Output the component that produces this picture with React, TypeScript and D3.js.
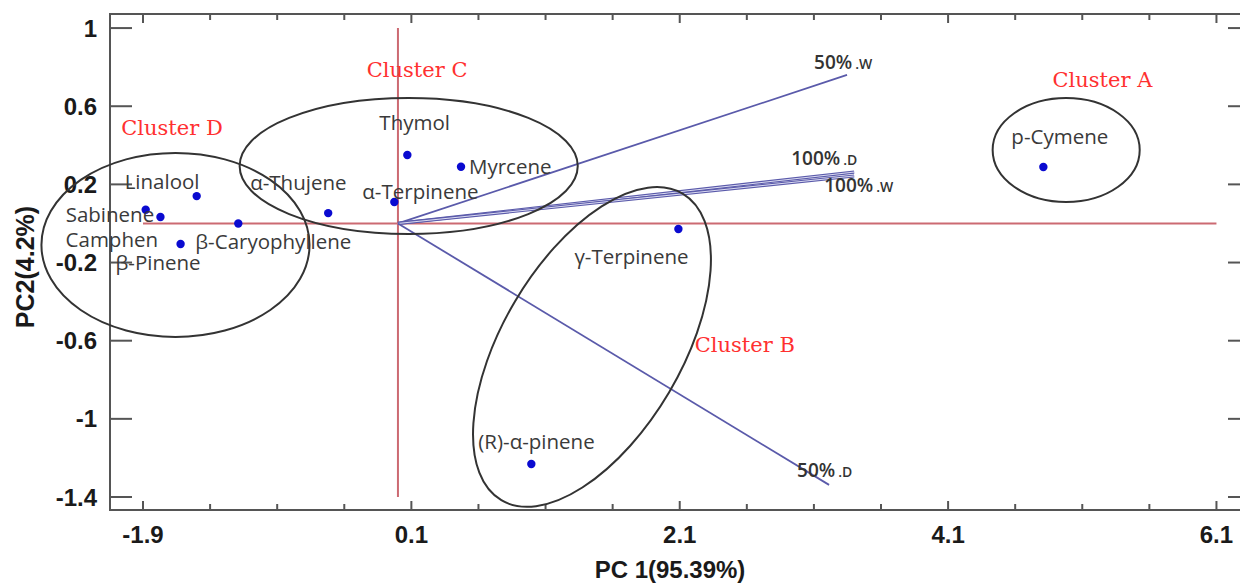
import React from "react";
import * as d3 from "d3";

// ---- data ----
const compounds = ["p-Cymene", "γ-Terpinene", "(R)-α-pinene", "Thymol", "Myrcene", "α-Terpinene", "α-Thujene", "β-Caryophyllene", "Linalool", "Sabinene", "β-Pinene", "Camphen"];
const pc1 = [4.81, 2.09, 0.994, 0.07, 0.47, -0.027, -0.52, -1.19, -1.5, -1.88, -1.77, -1.62];
const pc2 = [0.289, -0.028, -1.231, 0.35, 0.29, 0.11, 0.053, 0.0, 0.14, 0.07, 0.033, -0.105];
// label placement (pixel offset from the dot to the text start / baseline)
const labelDx = [-32, -104, -53, -28, 8, -32, -78, -43, -72, -80, -45, -115];
const labelDy = [-23, 35, -15, -25, 7, -3, -23, 26, -7, 12, 53, 3];

const vectorNames = ["50%", "100%", "100%", "50%"];
const vectorSuffix = [".W", ".D", ".W", ".D"];
const vectorX = [3.347, 3.4, 3.4, 3.213];
const vectorY = [0.76, 0.263, 0.243, -1.338];
const vectorDx = [-33, -63, -30, -32];
const vectorDy = [-6, -7, 16, -8];

const clusterNames = ["Cluster A", "Cluster B", "Cluster C", "Cluster D"];
const clusterLabelX = [5.25, 2.585, 0.143, -1.684];
const clusterLabelY = [0.734, -0.622, 0.786, 0.489];
const ellipseCx = [4.98, 1.446, 0.08, -1.658];
const ellipseCy = [0.376, -0.632, 0.294, -0.11];
const ellipseRx = [0.548, 1.327, 1.26, 0.999];
const ellipseRy = [0.266, 0.458, 0.348, 0.471];
const ellipseAngle = [0, -59.4, 0, 0];

const xTicks = [-1.9, 0.1, 2.1, 4.1, 6.1];
const xMinorTicks = d3.range(0, 17).map((i) => -1.9 + i * 0.5);
const yTicks = [1, 0.6, 0.2, -0.2, -0.6, -1, -1.4];

const W = 1240;
const H = 584;

export default function App() {
  const x = d3.scaleLinear().domain([-2.146, 6.35]).range([110, 1250]);
  const y = d3.scaleLinear().domain([-1.4665, 1.072]).range([510, 14]);
  const kx = x(1) - x(0);
  const ky = y(0) - y(1);
  const left = x.range()[0];
  const right = x.range()[1];
  const top = y.range()[1];
  const bottom = y.range()[0];
  const sans = "'Liberation Sans', Arial, sans-serif";
  const labelFont = "'Open Sans', sans-serif";

  return (
    <svg width={W} height={H} style={{ position: "absolute", left: 0, top: 0, background: "#fff" }}>
      <rect x={0} y={0} width={W} height={H} fill="#fff" />
      {/* red axes */}
      <line x1={x(0)} x2={x(0)} y1={y(1)} y2={y(-1.4)} stroke="#cc6a72" strokeWidth={2} />
      <line x1={x(-1.9)} x2={x(6.1)} y1={y(0)} y2={y(0)} stroke="#cc6a72" strokeWidth={2} />

      {/* frame */}
      <rect x={left} y={top} width={right - left} height={bottom - top} fill="none" stroke="#555" strokeWidth={2} />
      {xMinorTicks.map((t, i) => {
        const major = xTicks.some((m) => Math.abs(m - t) < 1e-6);
        const len = major ? 9 : 6;
        return (
          <g key={"xt" + i}>
            <line x1={x(t)} x2={x(t)} y1={bottom} y2={bottom - len} stroke="#555" strokeWidth={2} />
            <line x1={x(t)} x2={x(t)} y1={top} y2={top + len} stroke="#555" strokeWidth={2} />
          </g>
        );
      })}
      {yTicks.map((t, i) => (
        <g key={"yt" + i}>
          <line x1={left} x2={left + 22} y1={y(t)} y2={y(t)} stroke="#555" strokeWidth={2} />
          <line x1={right} x2={right - 22} y1={y(t)} y2={y(t)} stroke="#555" strokeWidth={2} />
          <text x={97} y={y(t)} dy="0.36em" textAnchor="end" fontFamily={sans} fontWeight="bold" fontSize={24} fill="#1a1a1a">
            {String(t)}
          </text>
        </g>
      ))}
      {xTicks.map((t, i) => (
        <text key={"xl" + i} x={x(t)} y={543} textAnchor="middle" fontFamily={sans} fontWeight="bold" fontSize={24} fill="#1a1a1a">
          {String(t)}
        </text>
      ))}
      <text x={670} y={578} textAnchor="middle" fontFamily={sans} fontWeight="bold" fontSize={24} fill="#1a1a1a">
        PC 1(95.39%)
      </text>
      <text transform={`translate(25,267) rotate(-90)`} textAnchor="middle" dy="0.36em" fontFamily={sans} fontWeight="bold" fontSize={25} fill="#1a1a1a">
        PC2(4.2%)
      </text>

      {/* loading vectors */}
      {vectorX.map((vx, i) => {
        const hollow = vectorNames[i] === "100%";
        return (
          <g key={"v" + i}>
            <line x1={x(0)} y1={y(0)} x2={x(vx)} y2={y(vectorY[i])} stroke="#5a5aaa" strokeWidth={hollow ? 3.2 : 1.8} />
            {hollow && <line x1={x(0)} y1={y(0)} x2={x(vx)} y2={y(vectorY[i])} stroke="#dcdcf2" strokeWidth={1} />}
          </g>
        );
      })}
      {vectorX.map((vx, i) => (
        <text key={"vl" + i} x={x(vx) + vectorDx[i]} y={y(vectorY[i]) + vectorDy[i]} fontFamily={labelFont} fontWeight={600} fill="#333">
          <tspan fontSize={19}>{vectorNames[i]}</tspan>
          <tspan fontSize={14} dx={3}>{vectorSuffix[i]}</tspan>
        </text>
      ))}

      {/* ellipses */}
      {ellipseCx.map((cx, i) => (
        <ellipse
          key={"e" + i}
          cx={0}
          cy={0}
          rx={ellipseRx[i] * kx}
          ry={ellipseRy[i] * ky}
          transform={`translate(${x(cx)},${y(ellipseCy[i])}) rotate(${ellipseAngle[i]})`}
          fill="none"
          stroke="#333"
          strokeWidth={2}
        />
      ))}

      {/* points */}
      {pc1.map((px, i) => (
        <g key={"p" + i}>
          <circle cx={x(px)} cy={y(pc2[i])} r={4.2} fill="#0a0ad0" />
          <text x={x(px) + labelDx[i]} y={y(pc2[i]) + labelDy[i]} fontFamily={labelFont} fontSize={20.5} fill="#3a3a3a">
            {compounds[i]}
          </text>
        </g>
      ))}

      {/* cluster labels */}
      {clusterNames.map((c, i) => (
        <text key={"c" + i} x={x(clusterLabelX[i])} y={y(clusterLabelY[i])} dy="0.35em" textAnchor="middle" fontFamily="'DejaVu Serif', serif" fontSize={21} fill="#ff3030">
          {c}
        </text>
      ))}
    </svg>
  );
}
